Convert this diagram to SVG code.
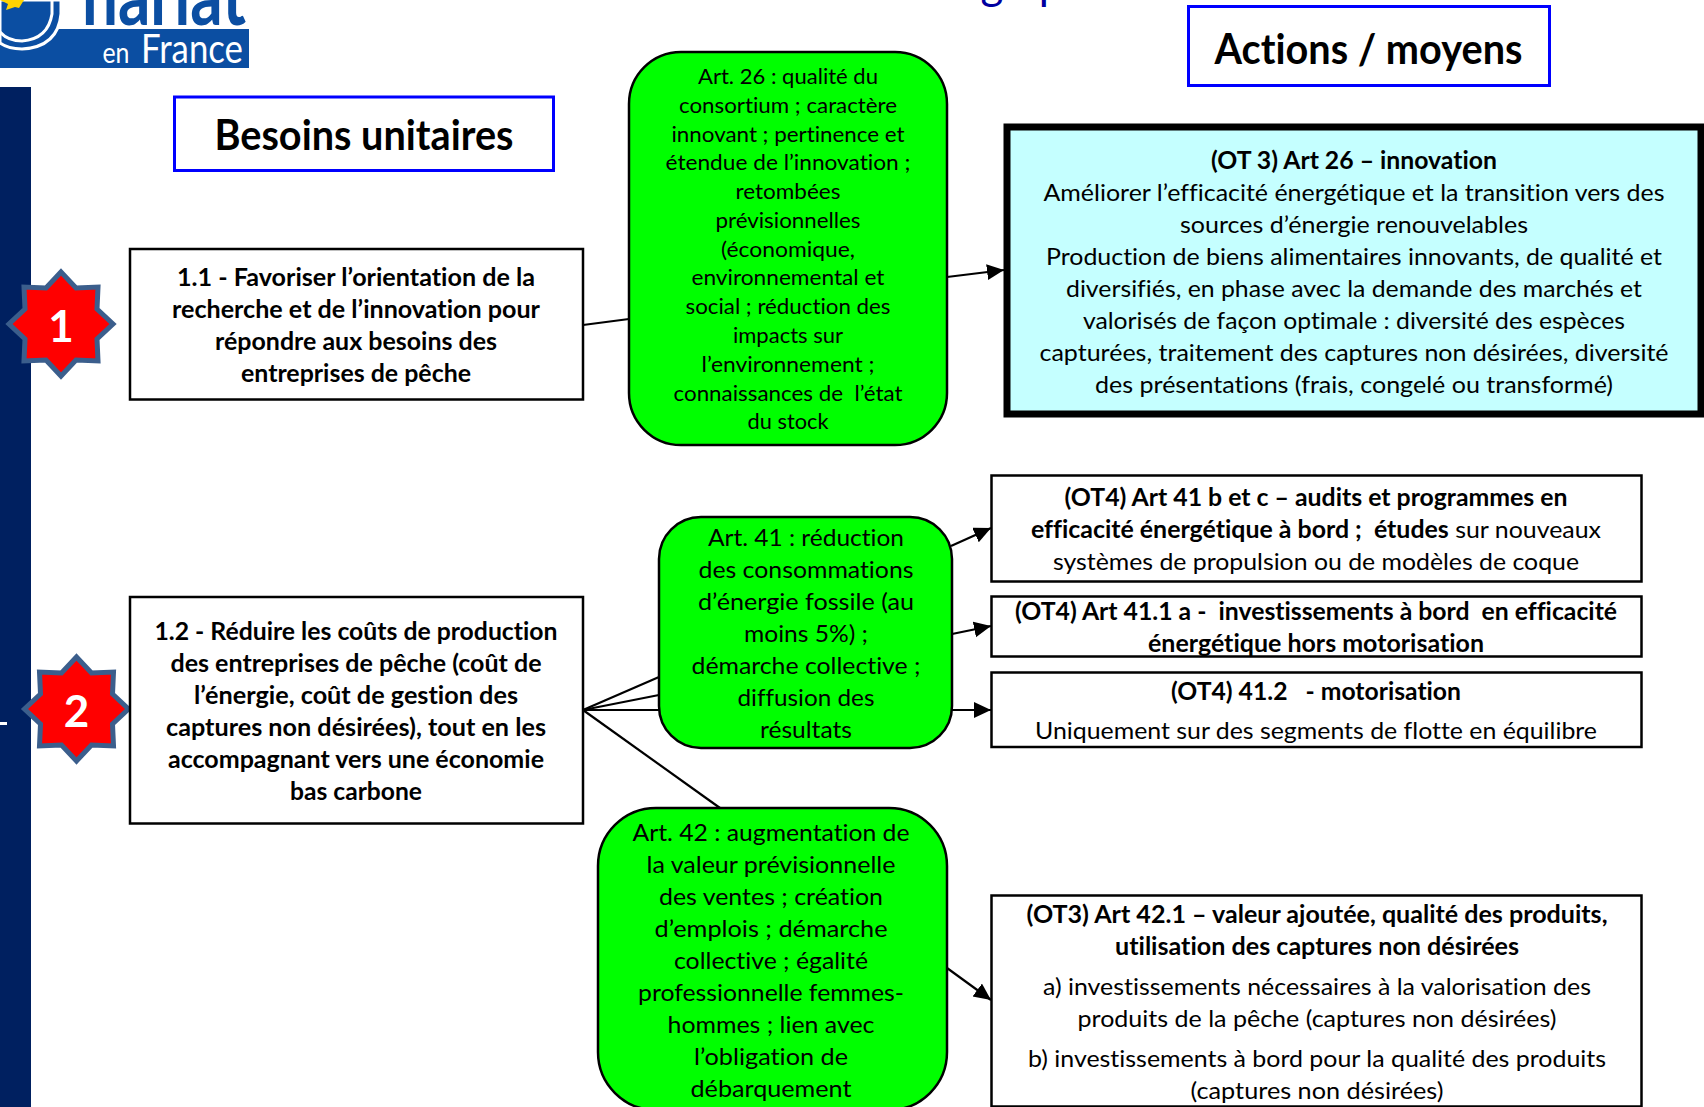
<svg xmlns="http://www.w3.org/2000/svg" width="1704" height="1107" viewBox="0 0 1704 1107">
<style>
text{font-family:Lato,"Noto Sans","Liberation Sans",sans-serif;fill:#000;text-anchor:middle;white-space:pre;font-variant-ligatures:none}
.t{font-size:24px;font-weight:400}
.b{font-size:24px;font-weight:700}
.s{font-size:22px;font-weight:400}
.h{font-size:42px;font-weight:700}
.box{fill:#fff;stroke:#000;stroke-width:2.5}
.hbox{fill:#fff;stroke:#0000ff;stroke-width:3}
.green{fill:#00ff00;stroke:#000;stroke-width:2.5}
.star{fill:#ff0000;stroke:#3b5e8c;stroke-width:5;stroke-linejoin:miter}
.num{font-size:44px;font-weight:700;fill:#fff}
.line{fill:none;stroke:#000;stroke-width:2.2}
</style>
<defs>
<marker id="arr" markerUnits="userSpaceOnUse" markerWidth="18" markerHeight="18" refX="17" refY="8" orient="auto"><path d="M0 0L17 8L0 16Z" fill="#000"/></marker>
<polygon id="star8" points="0,-52 15,-36 37,-37 36,-15 52,0 36,15 37,37 15,36 0,52 -15,36 -37,37 -36,15 -52,0 -36,-15 -37,-37 -15,-36"/>
</defs>
<rect width="1704" height="1107" fill="#fff"/>

<g id="logo">
<text x="164" y="25" style="font-size:84px;font-weight:700;fill:#0b4ea2" textLength="164" lengthAdjust="spacingAndGlyphs">nariat</text>
<rect x="0" y="29" width="249" height="39" fill="#0b4ea2"/>
<path d="M0 0H61V14Q58 47 22 49Q8 49 0 43Z" fill="#0b4ea2" stroke="#fff" stroke-width="3"/>
<path d="M0 32Q8 41 22 41Q48 39 52 14V0" fill="none" stroke="#fff" stroke-width="3"/>
<polygon points="0,0 24,0 19,8 23,9 15,7 6,10 8,4" fill="#ffd400"/>
<text x="116" y="63" style="font-size:28px;font-weight:400;fill:#fff" textLength="27" lengthAdjust="spacingAndGlyphs">en</text>
<text x="192" y="63" style="font-size:40px;font-weight:400;fill:#fff" textLength="102" lengthAdjust="spacingAndGlyphs">France</text>
</g>

<g id="title-fragment">
<text x="992" y="-1" style="font-size:44px;fill:#0000a0">g</text>
<text x="1051" y="-1" style="font-size:44px;fill:#0000a0">p</text>
</g>

<g id="sidebar">
<rect x="0" y="87" width="31" height="1020" fill="#002060"/>
<rect x="0" y="722" width="7" height="3" fill="#fff"/>
</g>

<g id="connectors">
<path class="line" d="M583 325L629 319"/>
<path class="line" d="M583 710L659 677"/>
<path class="line" d="M583 710L659 695"/>
<path class="line" d="M583 710L659 710"/>
<path class="line" d="M583 710L720 808"/>
<path class="line" d="M947 277L1004 270" marker-end="url(#arr)"/>
<path class="line" d="M951 546L991 528" marker-end="url(#arr)"/>
<path class="line" d="M952 634L991 626" marker-end="url(#arr)"/>
<path class="line" d="M952 710L991 710" marker-end="url(#arr)"/>
<path class="line" d="M947 968L991 1000" marker-end="url(#arr)"/>
</g>

<g id="head-besoins">
<rect class="hbox" x="174.500" y="97" width="379" height="73.500"/>
<text class="h" x="364" y="150" textLength="299" lengthAdjust="spacingAndGlyphs">Besoins unitaires</text>
</g>
<g id="head-actions">
<rect class="hbox" x="1188.500" y="6.500" width="361" height="79"/>
<text class="h" x="1368.500" y="64" textLength="308" lengthAdjust="spacingAndGlyphs">Actions / moyens</text>
</g>

<g id="star-1">
<use href="#star8" class="star" x="61" y="324"/>
<text class="num" x="61" y="342">1</text>
</g>
<g id="star-2">
<use href="#star8" class="star" x="76.500" y="709"/>
<text class="num" x="76.500" y="727">2</text>
</g>

<g id="need-1-1">
<rect class="box" x="130" y="249" width="453" height="150.500"/>
<text class="b" x="356" y="286" textLength="358" lengthAdjust="spacingAndGlyphs">1.1 - Favoriser l’orientation de la</text>
<text class="b" x="356" y="318" textLength="368" lengthAdjust="spacingAndGlyphs">recherche et de l’innovation pour</text>
<text class="b" x="356" y="350" textLength="282" lengthAdjust="spacingAndGlyphs">répondre aux besoins des</text>
<text class="b" x="356" y="382" textLength="230" lengthAdjust="spacingAndGlyphs">entreprises de pêche</text>
</g>

<g id="need-1-2">
<rect class="box" x="130" y="597" width="453" height="226.500"/>
<text class="b" x="356" y="640" textLength="403" lengthAdjust="spacingAndGlyphs">1.2 - Réduire les coûts de production</text>
<text class="b" x="356" y="672" textLength="371" lengthAdjust="spacingAndGlyphs">des entreprises de pêche (coût de</text>
<text class="b" x="356" y="704" textLength="324" lengthAdjust="spacingAndGlyphs">l’énergie, coût de gestion des</text>
<text class="b" x="356" y="736" textLength="380" lengthAdjust="spacingAndGlyphs">captures non désirées), tout en les</text>
<text class="b" x="356" y="768" textLength="376" lengthAdjust="spacingAndGlyphs">accompagnant vers une économie</text>
<text class="b" x="356" y="800" textLength="132" lengthAdjust="spacingAndGlyphs">bas carbone</text>
</g>

<g id="art-26">
<rect class="green" x="629" y="52" width="318" height="393" rx="52" ry="52"/>
<text class="s" x="788" y="84" textLength="180" lengthAdjust="spacingAndGlyphs">Art. 26 : qualité du</text>
<text class="s" x="788" y="113" textLength="218" lengthAdjust="spacingAndGlyphs">consortium ; caractère</text>
<text class="s" x="788" y="142" textLength="233" lengthAdjust="spacingAndGlyphs">innovant ; pertinence et</text>
<text class="s" x="788" y="170" textLength="245" lengthAdjust="spacingAndGlyphs">étendue de l’innovation ;</text>
<text class="s" x="788" y="199" textLength="105" lengthAdjust="spacingAndGlyphs">retombées</text>
<text class="s" x="788" y="228" textLength="145" lengthAdjust="spacingAndGlyphs">prévisionnelles</text>
<text class="s" x="788" y="257" textLength="134" lengthAdjust="spacingAndGlyphs">(économique,</text>
<text class="s" x="788" y="285" textLength="193" lengthAdjust="spacingAndGlyphs">environnemental et</text>
<text class="s" x="788" y="314" textLength="205" lengthAdjust="spacingAndGlyphs">social ; réduction des</text>
<text class="s" x="788" y="343" textLength="110" lengthAdjust="spacingAndGlyphs">impacts sur</text>
<text class="s" x="788" y="372" textLength="173" lengthAdjust="spacingAndGlyphs">l’environnement ;</text>
<text class="s" x="788" y="401" textLength="229" lengthAdjust="spacingAndGlyphs">connaissances de  l’état</text>
<text class="s" x="788" y="429" textLength="81" lengthAdjust="spacingAndGlyphs">du stock</text>
</g>

<g id="art-41">
<rect class="green" x="659" y="517" width="293" height="231" rx="42" ry="42"/>
<text class="t" x="806" y="546" textLength="196" lengthAdjust="spacingAndGlyphs">Art. 41 : réduction</text>
<text class="t" x="806" y="578" textLength="215" lengthAdjust="spacingAndGlyphs">des consommations</text>
<text class="t" x="806" y="610" textLength="216" lengthAdjust="spacingAndGlyphs">d’énergie fossile (au</text>
<text class="t" x="806" y="642" textLength="124" lengthAdjust="spacingAndGlyphs">moins 5%) ;</text>
<text class="t" x="806" y="674" textLength="229" lengthAdjust="spacingAndGlyphs">démarche collective ;</text>
<text class="t" x="806" y="706" textLength="137" lengthAdjust="spacingAndGlyphs">diffusion des</text>
<text class="t" x="806" y="738" textLength="92" lengthAdjust="spacingAndGlyphs">résultats</text>
</g>

<g id="art-42">
<rect class="green" x="598" y="808" width="349" height="302" rx="58" ry="58"/>
<text class="t" x="771" y="841" textLength="277" lengthAdjust="spacingAndGlyphs">Art. 42 : augmentation de</text>
<text class="t" x="771" y="873" textLength="249" lengthAdjust="spacingAndGlyphs">la valeur prévisionnelle</text>
<text class="t" x="771" y="905" textLength="224" lengthAdjust="spacingAndGlyphs">des ventes ; création</text>
<text class="t" x="771" y="937" textLength="233" lengthAdjust="spacingAndGlyphs">d’emplois ; démarche</text>
<text class="t" x="771" y="969" textLength="194" lengthAdjust="spacingAndGlyphs">collective ; égalité</text>
<text class="t" x="771" y="1001" textLength="266" lengthAdjust="spacingAndGlyphs">professionnelle femmes-</text>
<text class="t" x="771" y="1033" textLength="207" lengthAdjust="spacingAndGlyphs">hommes ; lien avec</text>
<text class="t" x="771" y="1065" textLength="154" lengthAdjust="spacingAndGlyphs">l’obligation de</text>
<text class="t" x="771" y="1097" textLength="161" lengthAdjust="spacingAndGlyphs">débarquement</text>
</g>

<g id="action-ot3-26">
<rect x="1007" y="127" width="694" height="287" fill="#c5ffff" stroke="#000" stroke-width="7"/>
<text class="b" x="1354" y="169" textLength="286" lengthAdjust="spacingAndGlyphs">(OT 3) Art 26 – innovation</text>
<text class="t" x="1354" y="201" textLength="621" lengthAdjust="spacingAndGlyphs">Améliorer l’efficacité énergétique et la transition vers des</text>
<text class="t" x="1354" y="233" textLength="348" lengthAdjust="spacingAndGlyphs">sources d’énergie renouvelables</text>
<text class="t" x="1354" y="265" textLength="616" lengthAdjust="spacingAndGlyphs">Production de biens alimentaires innovants, de qualité et</text>
<text class="t" x="1354" y="297" textLength="576" lengthAdjust="spacingAndGlyphs">diversifiés, en phase avec la demande des marchés et</text>
<text class="t" x="1354" y="329" textLength="542" lengthAdjust="spacingAndGlyphs">valorisés de façon optimale : diversité des espèces</text>
<text class="t" x="1354" y="361" textLength="629" lengthAdjust="spacingAndGlyphs">capturées, traitement des captures non désirées, diversité</text>
<text class="t" x="1354" y="393" textLength="518" lengthAdjust="spacingAndGlyphs">des présentations (frais, congelé ou transformé)</text>
</g>

<g id="action-ot4-41bc">
<rect class="box" x="991.500" y="475.500" width="650" height="106"/>
<text class="b" x="1316" y="506" textLength="503" lengthAdjust="spacingAndGlyphs">(OT4) Art 41 b et c – audits et programmes en</text>
<text class="t" x="1316" y="538" textLength="570" lengthAdjust="spacingAndGlyphs"><tspan class="b">efficacité énergétique à bord ;  études</tspan> sur nouveaux</text>
<text class="t" x="1316" y="570" textLength="526" lengthAdjust="spacingAndGlyphs">systèmes de propulsion ou de modèles de coque</text>
</g>

<g id="action-ot4-411a">
<rect class="box" x="991.500" y="596.500" width="650" height="60"/>
<text class="b" x="1316" y="620" textLength="602" lengthAdjust="spacingAndGlyphs">(OT4) Art 41.1 a -  investissements à bord  en efficacité</text>
<text class="b" x="1316" y="652" textLength="336" lengthAdjust="spacingAndGlyphs">énergétique hors motorisation</text>
</g>

<g id="action-ot4-412">
<rect class="box" x="991.500" y="672.500" width="650" height="74.500"/>
<text class="b" x="1316" y="700" textLength="290" lengthAdjust="spacingAndGlyphs">(OT4) 41.2   - motorisation</text>
<text class="t" x="1316" y="739" textLength="562" lengthAdjust="spacingAndGlyphs">Uniquement sur des segments de flotte en équilibre</text>
</g>

<g id="action-ot3-421">
<rect class="box" x="991.500" y="895.500" width="650" height="211"/>
<text class="b" x="1317" y="923" textLength="581" lengthAdjust="spacingAndGlyphs">(OT3) Art 42.1 – valeur ajoutée, qualité des produits,</text>
<text class="b" x="1317" y="955" textLength="404" lengthAdjust="spacingAndGlyphs">utilisation des captures non désirées</text>
<text class="t" x="1317" y="995" textLength="548" lengthAdjust="spacingAndGlyphs">a) investissements nécessaires à la valorisation des</text>
<text class="t" x="1317" y="1027" textLength="479" lengthAdjust="spacingAndGlyphs">produits de la pêche (captures non désirées)</text>
<text class="t" x="1317" y="1067" textLength="578" lengthAdjust="spacingAndGlyphs">b) investissements à bord pour la qualité des produits</text>
<text class="t" x="1317" y="1099" textLength="253" lengthAdjust="spacingAndGlyphs">(captures non désirées)</text>
</g>
</svg>
